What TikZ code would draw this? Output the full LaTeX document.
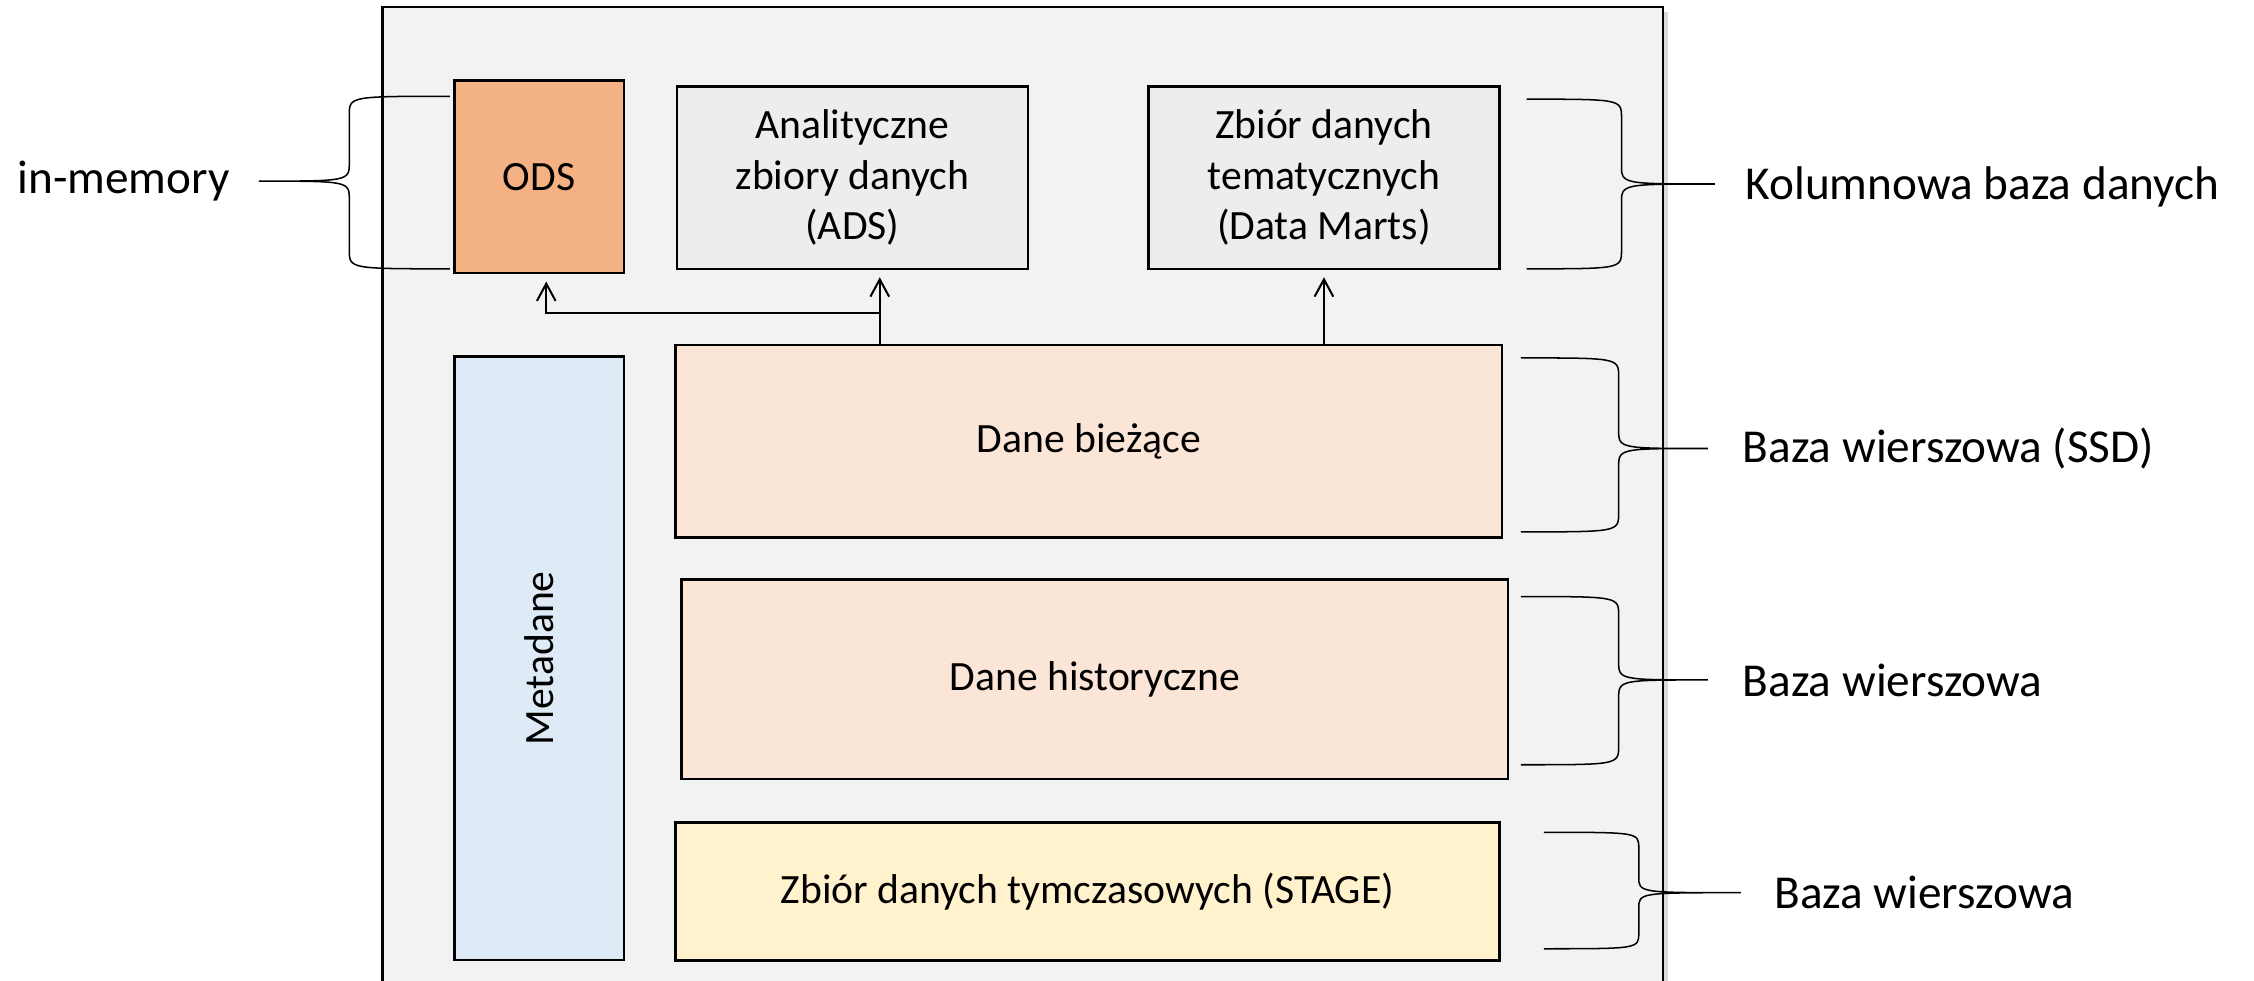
\documentclass[tikz,border=0pt]{standalone}
\usepackage{fontspec}
\setmainfont{Carlito}
\usetikzlibrary{arrows.meta,shadows}

\definecolor{tlo}{HTML}{F2F2F2}
\definecolor{szary}{HTML}{EDEDED}
\definecolor{pomarancz}{HTML}{F4B183}
\definecolor{brzoskwinia}{HTML}{FBE5D6}
\definecolor{zolty}{HTML}{FFF2CC}
\definecolor{niebieski}{HTML}{DEEBF7}

\tikzset{
  blok/.style={rectangle, draw=black, line width=1pt, text centered, align=center, inner sep=0pt, font=\fontsize{16.5}{20}\selectfont},
  klamra/.style={draw=black, line width=0.6pt},
  opis/.style={anchor=west, inner sep=0pt, font=\fontsize{18.7}{22}\selectfont},
  strzalka/.style={-{Straight Barb[length=0.24cm,width=0.26cm]}, line width=0.8pt, shorten >=0.1cm}
}

\begin{document}
\begin{tikzpicture}[x=0.02cm, y=-0.02cm]
\clip (0,0) rectangle (1568,682);

% hurtownia
\draw[fill=tlo, line width=1pt, drop shadow={opacity=0.3, shadow xshift=0.07cm, shadow yshift=-0.07cm}] (266,5) rectangle (1157,720);

\node (ods) [blok, fill=pomarancz, minimum width=2.36cm, minimum height=2.68cm] at (375,123) {ODS};
\node (ads) [blok, fill=szary, minimum width=4.88cm, minimum height=2.54cm] at (593,123.5) {Analityczne\\zbiory danych\\(ADS)};
\node (dm) [blok, fill=szary, minimum width=4.88cm, minimum height=2.54cm] at (921,123.5) {Zbiór danych\\tematycznych\\(Data Marts)};
\node (meta) [blok, fill=niebieski, minimum width=2.36cm, minimum height=8.4cm] at (375,458) {};
\node (metatxt) [rotate=90, font=\fontsize{16.5}{20}\selectfont] at (meta.center) {Metadane};
\node (cur) [blok, fill=brzoskwinia, minimum width=11.5cm, minimum height=2.68cm] at (757.5,307) {Dane bieżące};
\node (hist) [blok, fill=brzoskwinia, minimum width=11.5cm, minimum height=2.78cm] at (761.5,472.5) {Dane historyczne};
\node (stage) [blok, fill=zolty, minimum width=11.46cm, minimum height=1.92cm] at (756.5,620) {Zbiór danych tymczasowych (STAGE)};

% przeplywy
\coordinate (rozgal) at (612,218);
\draw[strzalka] ([xshift=0.38cm]cur.north -| ads.south) -- ([xshift=0.38cm]ads.south);
\draw[strzalka] (rozgal) -| ([xshift=0.1cm]ods.south);
\draw[strzalka] (cur.north -| dm.south) -- (dm.south);

% klamry
\draw[klamra] (313,67) .. controls (243,67) .. (243,80) -- (243,113) .. controls (243,126) .. (180,126) .. controls (243,126) .. (243,139) -- (243,174) .. controls (243,187) .. (313,187);
\node (inmem) [opis, anchor=east] at (160,126) {in-memory};

\draw[klamra] (1062,69) .. controls (1128,69) .. (1128,82) -- (1128,115) .. controls (1128,128) .. (1193,128) .. controls (1128,128) .. (1128,141) -- (1128,174) .. controls (1128,187) .. (1062,187);
\node (kol) [opis] at (1214,130) {Kolumnowa baza danych};

\draw[klamra] (1058,249) .. controls (1126,249) .. (1126,262) -- (1126,299) .. controls (1126,312) .. (1188,312) .. controls (1126,312) .. (1126,325) -- (1126,357) .. controls (1126,370) .. (1058,370);
\node (ssd) [opis] at (1212,312) {Baza wierszowa (SSD)};

\draw[klamra] (1058,415) .. controls (1126,415) .. (1126,428) -- (1126,460) .. controls (1126,473) .. (1188,473) .. controls (1126,473) .. (1126,486) -- (1126,519) .. controls (1126,532) .. (1058,532);
\node (wiersz) [opis] at (1212,473) {Baza wierszowa};

\draw[klamra] (1074,579) .. controls (1140,579) .. (1140,590) -- (1140,610) .. controls (1140,621) .. (1211,621) .. controls (1140,621) .. (1140,632) -- (1140,649) .. controls (1140,660) .. (1074,660);
\node (wiersz2) [opis] at (1234,621) {Baza wierszowa};

\end{tikzpicture}
\end{document}
